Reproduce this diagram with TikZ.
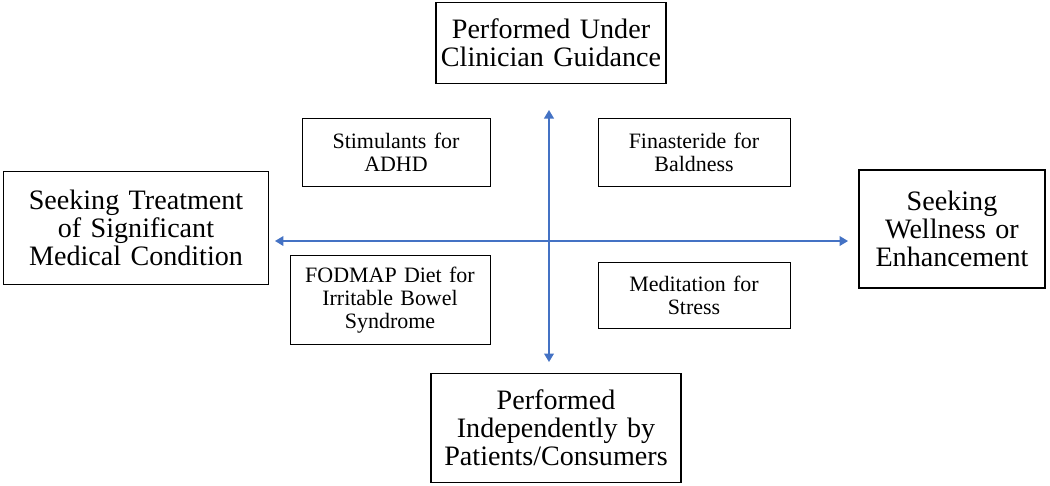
\documentclass[tikz,border=0pt]{standalone}
\usepackage{fontspec}
\setmainfont{Liberation Serif}
\usetikzlibrary{arrows.meta, positioning}
\definecolor{axisblue}{HTML}{4472C4}

\begin{document}
\begin{tikzpicture}[x=0.02cm, y=-0.02cm, >=Triangle,
    bigbox/.style={draw, thick, align=center, font=\fontsize{16}{16}\selectfont, inner sep=0pt},
    smallbox/.style={draw, align=center, font=\fontsize{12.5}{13}\selectfont, inner sep=0pt}]

    \useasboundingbox (0,0) rectangle (1050,485);

    % axis ends
    \coordinate (west) at (275,241);
    \coordinate (east) at (848,241);
    \coordinate (north) at (549,110);
    \coordinate (south) at (549,362);

    \draw[thick, axisblue, <->] (west) -- (east);
    \draw[thick, axisblue, <->] (north) -- (south);

    % outer boxes
    \node[bigbox, text width=4.6cm, minimum height=1.62cm] (guided) at (551,43) {Performed Under\\Clinician Guidance};
    \node[bigbox, text width=5.3cm, minimum height=2.26cm] (treatment) at (136,228) {Seeking Treatment\\of Significant\\Medical Condition};
    \node[bigbox, text width=3.72cm, minimum height=2.36cm] (wellness) at (952,229) {Seeking\\Wellness or\\Enhancement};
    \node[bigbox, text width=5.0cm, minimum height=2.18cm] (independent) at (556,428) {Performed\\Independently by\\Patients/Consumers};

    % quadrant examples
    \node[smallbox, text width=3.76cm, minimum height=1.36cm] (adhd) at (396,152) {Stimulants for\\ADHD};
    \node[smallbox, text width=3.84cm, minimum height=1.36cm] (baldness) at (694,152) {Finasteride for\\Baldness};
    \node[smallbox, text width=4.0cm, minimum height=1.78cm] (fodmap) at (390,300) {FODMAP Diet for\\Irritable Bowel\\Syndrome};
    \node[smallbox, text width=3.84cm, minimum height=1.32cm] (stress) at (694,295) {Meditation for\\Stress};
%
\end{tikzpicture}
\end{document}
